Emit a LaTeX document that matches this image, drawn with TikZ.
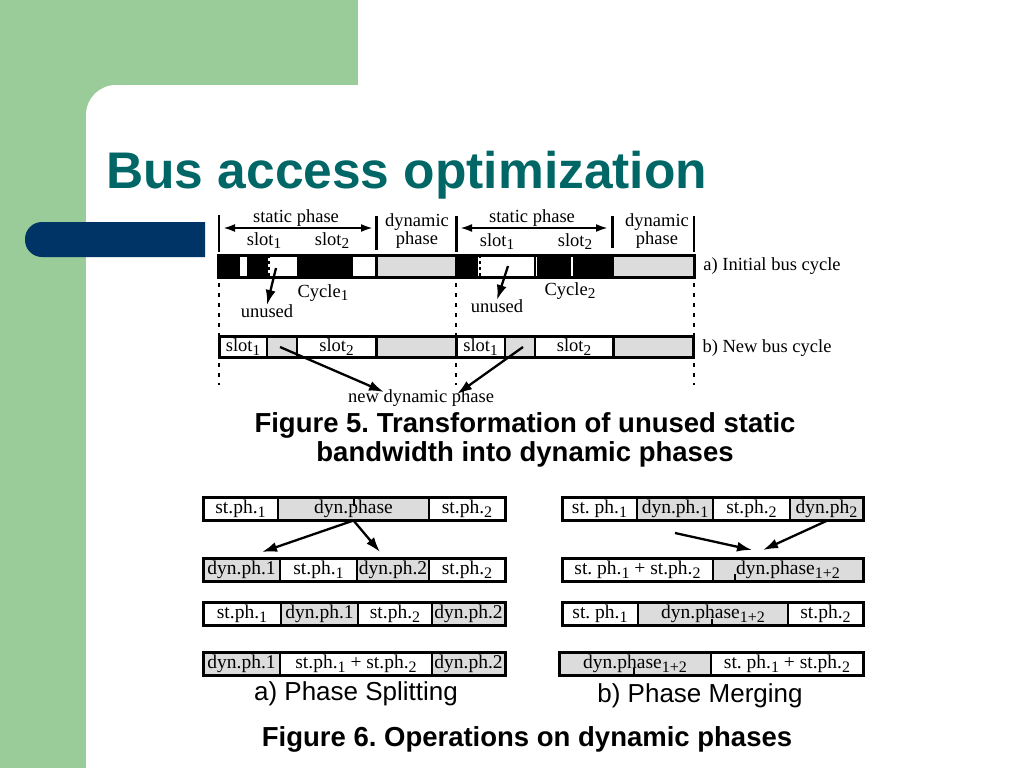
\documentclass[tikz,border=0pt]{standalone}
\usepackage{fontspec}
\setmainfont{Liberation Serif}
\newfontfamily\capfont{Liberation Sans}
\usetikzlibrary{arrows.meta,positioning}
\frenchspacing
\definecolor{slidegreen}{HTML}{99CC99}
\definecolor{slideblue}{HTML}{003366}
\definecolor{titleteal}{HTML}{006666}
\definecolor{phasegrey}{HTML}{DCDCDC}
\newcommand{\lbl}{\fontsize{18.5}{16}\selectfont}
\newcommand{\cellfont}{\fontsize{19.5}{20}\selectfont}
\newcommand{\sbs}[1]{\raisebox{-.45ex}{\scalebox{.82}{#1}}}
\tikzset{>={Latex[length=15pt,width=10pt]},
  flow/.style={->,line width=2.3pt},
  span/.style={{Latex[length=12pt,width=8pt]}-{Latex[length=12pt,width=8pt]},line width=2.2pt},
  bound/.style={line width=2.2pt},
  cut/.style={line width=2.5pt,dash pattern=on 4pt off 6pt},
  splitmark/.style={line width=2pt},
  barframe/.style={draw,line width=3pt},
  cell/.style={draw,line width=1.6pt,minimum height=23pt,inner sep=0pt,outer sep=0pt,
    text height=13pt,text depth=4pt,font=\cellfont},
  stcell/.style={cell,fill=white},
  dyncell/.style={cell,fill=phasegrey},
  lab/.style={font=\lbl,inner sep=0pt,anchor=base},
  caption/.style={font=\capfont\bfseries\fontsize{27.5}{30}\selectfont,anchor=base},
  subcap/.style={font=\capfont\fontsize{26}{28}\selectfont,anchor=base}}

\begin{document}
\begin{tikzpicture}[x=1pt,y=-1pt]
\useasboundingbox (0,0) rectangle (1024,768);
% slide background
\fill[white] (0,0) rectangle (1024,768);
\fill[slidegreen] (0,0) rectangle (358,768);
\fill[white,rounded corners=30pt] (86,768) -- (86,85) -- (420,85) [sharp corners] -- (420,768) -- cycle;
\fill[slideblue,rounded corners=17pt] (205,222) -- (25,222) -- (25,257) [sharp corners] -- (205,257) -- cycle;
\node[font=\capfont\bfseries\fontsize{51.5}{56}\selectfont,text=titleteal,anchor=base west,inner sep=0pt] (title) at (106,188) {Bus access optimization};

% ---- Figure 5: initial bus cycle
\foreach \x/\a/\b in {219/215/252,376.5/216/250,456.5/216/252,612.5/216/248,694/216/252}
  \draw[bound] (\x,\a)--(\x,\b);
\coordinate (sp1L) at (223,228); \coordinate (sp1R) at (373,228);
\coordinate (sp2L) at (460,228); \coordinate (sp2R) at (608,228);
\draw[span] (sp1L)--(sp1R);
\draw[span] (sp2L)--(sp2R);
\node[lab] (stat1) at (296,222) {static phase};
\node[lab] (stat2) at (532,222) {static phase};
\node[lab] (s11) at (264,245) {slot\sbs1};
\node[lab] (s12) at (332,245) {slot\sbs2};
\node[lab] (s21) at (497,246) {slot\sbs1};
\node[lab] (s22) at (575,246) {slot\sbs2};
\node[font=\lbl,align=center,inner sep=0pt] (dyn1) at (417,231) {dynamic\\phase};
\node[font=\lbl,align=center,inner sep=0pt] (dyn2) at (657,231) {dynamic\\phase};

\fill (219,255) rectangle (240,277);
\fill (247,255) rectangle (268,277);
\fill (297,255) rectangle (353,277);
\fill[phasegrey] (378,255) rectangle (455,277);
\fill (458,255) rectangle (478,277);
\fill (537,255) rectangle (571,277);
\fill (573,255) rectangle (611,277);
\fill[phasegrey] (614,255) rectangle (693,277);
\foreach \x in {376.5,456.5,612.5} \draw[line width=3pt] (\x,255)--(\x,277);
\draw[line width=1.5pt] (535,255)--(535,277);
\draw[line width=2.5pt,dash pattern=on 3pt off 3pt] (269,255)--(269,277);
\draw[line width=2.5pt,dash pattern=on 3pt off 3pt] (480,255)--(480,277);
\draw[barframe] (218,255) rectangle (694,277);
\node[lab] (barA) at (772,270) {a) Initial bus cycle};
\node[lab] (cyc1) at (323,297) {Cycle\sbs1};
\node[lab] (cyc2) at (570,295) {Cycle\sbs2};
\node[lab] (un1) at (267,317) {unused};
\node[lab] (un2) at (497,312) {unused};
\coordinate (u1) at (276,268);
\coordinate (u2) at (508,266);
\draw[flow] (u1)--([yshift=-1pt]un1.north);
\draw[flow] (u2)--([yshift=-1pt]un2.north);
\foreach \x in {219,456,694} \draw[cut] (\x,283)--(\x,385);

% ---- Figure 5: new bus cycle
\node[stcell,font=\lbl,minimum height=21pt,minimum width=48pt,anchor=west] (b1) at (219,347) {slot\sbs1};
\node[dyncell,minimum height=21pt,minimum width=30pt,right=0pt of b1] (g1) {};
\node[stcell,font=\lbl,minimum height=21pt,minimum width=79pt,right=0pt of g1] (b2) {slot\sbs2};
\node[dyncell,minimum height=21pt,minimum width=80pt,right=0pt of b2] (b3) {};
\node[stcell,font=\lbl,minimum height=21pt,minimum width=49pt,right=0pt of b3] (b4) {slot\sbs1};
\node[dyncell,minimum height=21pt,minimum width=30pt,right=0pt of b4] (g2) {};
\node[stcell,font=\lbl,minimum height=21pt,minimum width=78pt,right=0pt of g2] (b5) {slot\sbs2};
\node[dyncell,minimum height=21pt,minimum width=80pt,right=0pt of b5] (b6) {};
\foreach \n in {b2,b3,b5} \draw[line width=3pt] (\n.north east)--(\n.south east);
\draw[barframe] (b1.north west) rectangle (b6.south east);
\node[lab] (barB) at (767,352) {b) New bus cycle};
\node[lab] (ndp) at (421,402) {new dynamic phase};
\coordinate (ndpL) at (384,392);
\coordinate (ndpR) at (457,394);
\draw[flow] ([xshift=-2pt]g1.center)--(ndpL);
\draw[flow] ([xshift=3pt]g2.center)--(ndpR);

\node[caption] (cap5a) at (525,432) {Figure 5. Transformation of unused static};
\node[caption] (cap5b) at (525,461) {bandwidth into dynamic phases};

% ---- Figure 6 a) phase splitting
\node[stcell,minimum width=75pt,anchor=west] (sa1) at (203,509) {st.ph.\sbs1};
\node[dyncell,minimum width=151pt,right=0pt of sa1] (sa2) {dyn.phase};
\node[stcell,minimum width=76pt,right=0pt of sa2] (sa3) {st.ph.\sbs2};
\draw[barframe] (sa1.north west) rectangle (sa3.south east);
\draw[splitmark] ([yshift=-1pt]sa2.north)--++(0,7);

\node[dyncell,minimum width=77pt,anchor=west] (sb1) at (203,569.5) {dyn.ph.1};
\node[stcell,minimum width=77pt,right=0pt of sb1] (sb2) {st.ph.\sbs1};
\node[dyncell,minimum width=72pt,right=0pt of sb2] (sb3) {dyn.ph.2};
\node[stcell,minimum width=76pt,right=0pt of sb3] (sb4) {st.ph.\sbs2};
\draw[barframe] (sb1.north west) rectangle (sb4.south east);

\node[stcell,minimum width=78pt,anchor=west] (sc1) at (203,614) {st.ph.\sbs1};
\node[dyncell,minimum width=77pt,right=0pt of sc1] (sc2) {dyn.ph.1};
\node[stcell,minimum width=74pt,right=0pt of sc2] (sc3) {st.ph.\sbs2};
\node[dyncell,minimum width=73pt,right=0pt of sc3] (sc4) {dyn.ph.2};
\draw[barframe] (sc1.north west) rectangle (sc4.south east);

\node[dyncell,minimum width=77pt,anchor=west] (sd1) at (203,664) {dyn.ph.1};
\node[stcell,minimum width=152pt,right=0pt of sd1] (sd2) {st.ph.\sbs1{} + st.ph.\sbs2};
\node[dyncell,minimum width=73pt,right=0pt of sd2] (sd3) {dyn.ph.2};
\draw[barframe] (sd1.north west) rectangle (sd3.south east);

\coordinate (splL) at (262,552);
\coordinate (splR) at (380,552);
\draw[flow] (sa2.south)--(splL);
\draw[flow] (sa2.south)--(splR);
\node[subcap] (capA) at (356,700) {a) Phase Splitting};

% ---- Figure 6 b) phase merging
\node[stcell,minimum width=75pt,anchor=west] (ra1) at (562,508.5) {st. ph.\sbs1};
\node[dyncell,minimum width=76pt,right=0pt of ra1] (ra2) {dyn.ph.\sbs1};
\node[stcell,minimum width=77pt,right=0pt of ra2] (ra3) {st.ph.\sbs2};
\node[dyncell,minimum width=73pt,right=0pt of ra3] (ra4) {dyn.ph\sbs2};
\draw[barframe] (ra1.north west) rectangle (ra4.south east);

\node[stcell,minimum width=151pt,anchor=west] (rb1) at (562,569.5) {st. ph.\sbs1{} + st.ph.\sbs2};
\node[dyncell,minimum width=150pt,right=0pt of rb1] (rb2) {dyn.phase\sbs{1+2}};
\draw[barframe] (rb1.north west) rectangle (rb2.south east);
\draw[splitmark] ([xshift=-53pt,yshift=1pt]rb2.south)--++(0,-6);

\node[stcell,minimum width=76pt,anchor=west] (rc1) at (562,614) {st. ph.\sbs1};
\node[dyncell,minimum width=150pt,right=0pt of rc1] (rc2) {dyn.phase\sbs{1+2}};
\node[stcell,minimum width=75pt,right=0pt of rc2] (rc3) {st.ph.\sbs2};
\draw[barframe] (rc1.north west) rectangle (rc3.south east);
\draw[splitmark] ([xshift=-1pt,yshift=1pt]rc2.south)--++(0,-6);

\node[dyncell,minimum width=152pt,anchor=west] (rd1) at (559,663.5) {dyn.phase\sbs{1+2}};
\node[stcell,minimum width=152pt,right=0pt of rd1] (rd2) {st. ph.\sbs1{} + st.ph.\sbs2};
\draw[barframe] (rd1.north west) rectangle (rd2.south east);
\draw[splitmark] ([xshift=-1pt,yshift=1pt]rd1.south)--++(0,-6);

\coordinate (mrgS) at (675,533);
\coordinate (mrgL) at (752,550);
\coordinate (mrgR) at (763,550);
\draw[flow] (mrgS)--(mrgL);
\draw[flow] ([xshift=2pt]ra4.south)--(mrgR);
\node[subcap] (capB) at (700,702) {b) Phase Merging};

\node[caption] (cap6) at (527,746) {Figure 6. Operations on dynamic phases};
\end{tikzpicture}
\end{document}
